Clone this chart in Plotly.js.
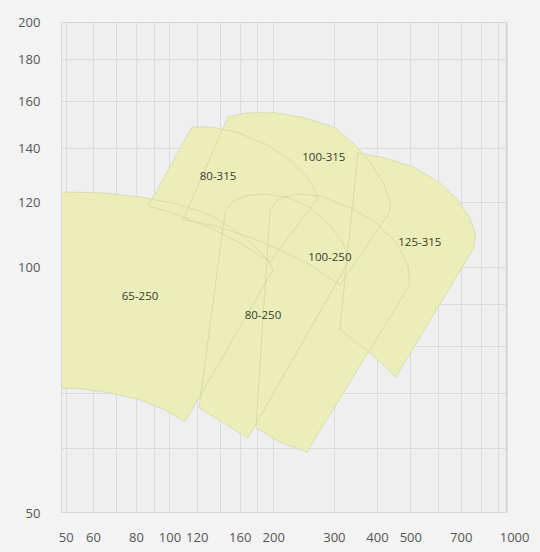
<!DOCTYPE html>
<html>
<head>
<meta charset="utf-8">
<script src="https://cdn.plot.ly/plotly-3.0.1.min.js"></script>
<style>
  html, body { margin: 0; padding: 0; background: #f3f3f3; }
  #chart { width: 540px; height: 552px; }
</style>
</head>
<body>
<div id="chart"></div>
<script>
// Flow Q (x) and head H (y) outlines of each pump operating range
const q65_250 = [45, 62.7, 81.9, 107, 130.7, 154.5, 176.5, 192.5, 199, 110.7, 96.8, 81.9, 67.1, 54.9, 45];
const h65_250 = [123.8, 123.5, 122.1, 119.4, 116, 111.2, 106, 102.2, 99.3, 64.7, 66.9, 68.8, 70.2, 71, 71.2];

const q80_250 = [121.5, 144.5, 151.4, 165.1, 188.7, 223, 254.8, 291.2, 317.6, 328.4, 326.2, 168.4, 144.5, 121.5];
const h80_250 = [67.3, 117, 120.4, 122.4, 123.1, 121.7, 118.4, 112.8, 107.2, 103.6, 100.8, 61.8, 64.3, 67.3];

const q100_250 = [177.7, 195.2, 205.9, 230.5, 272.4, 332.8, 393, 455.4, 490.1, 496.7, 249.7, 208.6, 177.7];
const h100_250 = [63.6, 117.7, 121, 123.1, 122.4, 118.4, 113.8, 107.2, 100.8, 95.2, 59.4, 61.1, 63.6];

const q80_315 = [86.4, 115.9, 132.5, 157.6, 188.7, 223, 251.4, 265.2, 268.8, 195.2, 159.7, 130.7, 103.5, 86.4];
const h80_315 = [119, 148.7, 148.7, 146.3, 141.8, 135.5, 128.8, 123.8, 121.7, 101.6, 107.2, 111.9, 116.4, 119];

const q100_315 = [109.2, 147.4, 168.4, 201.8, 246.4, 301.1, 344, 380.3, 414.8, 434.6, 434.6, 311.3, 254.8, 208.6, 170.7, 135.2, 109.2];
const h100_315 = [114.4, 153.1, 154.8, 154.8, 152.6, 148.4, 141.4, 134.8, 127.4, 121, 117, 95.2, 100.8, 105.1, 109, 112.5, 114.4];

const q125_315 = [351, 420.3, 513.5, 606.8, 684.3, 741.4, 771.7, 761.5, 452.4, 380.3, 311.3, 351];
const h125_315 = [138.2, 136.3, 132.5, 127, 121, 115, 109.7, 105.7, 73.4, 78.6, 83.9, 138.2];

const labelNames = ["65-250", "80-250", "100-250", "80-315", "100-315", "125-315"];
const labelQ = [81.9, 186.2, 291.2, 137.9, 279.7, 531];
const labelH = [92.1, 87.2, 102.8, 129.2, 136.3, 107.2];

const xTickVals = [50, 60, 80, 100, 120, 160, 200, 300, 400, 500, 700, 1000];
const xTickText = ["50", "60", "80", "100", "120", "160", "200", "300", "400", "500", "700", "1000"];
const xGridVals = [50, 60, 70, 80, 90, 100, 120, 140, 160, 180, 200, 300, 400, 500, 600, 700, 800, 900];
const yTickVals = [50, 100, 120, 140, 160, 180, 200];
const yTickText = ["50", "100", "120", "140", "160", "180", "200"];
const yGridVals = [60, 70, 80, 90, 100, 120, 140, 160, 180];

const regions = [
  [q65_250, h65_250], [q80_250, h80_250], [q100_250, h100_250],
  [q80_315, h80_315], [q100_315, h100_315], [q125_315, h125_315]
];

const fillCol = '#ebeeb8';
const edgeCol = 'rgba(200,202,156,0.5)';
const traces = [];
regions.forEach(r => traces.push({
  type: 'scatter', mode: 'lines', x: r[0], y: r[1], fill: 'toself',
  fillcolor: fillCol, line: {width: 0}, hoverinfo: 'skip', showlegend: false
}));
regions.forEach(r => traces.push({
  type: 'scatter', mode: 'lines', x: r[0], y: r[1],
  line: {color: edgeCol, width: 1}, hoverinfo: 'skip', showlegend: false
}));
traces.push({
  type: 'scatter', mode: 'text', x: labelQ, y: labelH, text: labelNames,
  textposition: 'middle center',
  textfont: {family: 'Open Sans, sans-serif', size: 11.5, color: '#3a3a30'},
  hoverinfo: 'skip', showlegend: false
});

const xMin = 48.3, xFrame = 949, xMax = 1030;
const gridCol = '#dcdcdc';

const layout = {
  width: 540, height: 552,
  margin: {l: 61, r: 21, t: 22, b: 39, pad: 0},
  paper_bgcolor: '#f3f3f3',
  plot_bgcolor: '#efefef',
  showlegend: false,
  font: {family: 'Open Sans, sans-serif', color: '#555555', size: 13},
  xaxis: {
    type: 'log', range: [Math.log10(xMin), Math.log10(xMax)],
    tickmode: 'array', tickvals: xTickVals, ticktext: xTickText,
    showgrid: false, zeroline: false, showline: false,
    ticks: 'outside', ticklen: 12, tickcolor: 'rgba(0,0,0,0)',
    tickfont: {size: 13, color: '#555555'},
    minor: {tickmode: 'array', tickvals: xGridVals, showgrid: true, gridcolor: gridCol, gridwidth: 1, ticks: ''},
    fixedrange: true
  },
  yaxis: {
    type: 'log', range: [Math.log10(50), Math.log10(200)],
    tickmode: 'array', tickvals: yTickVals, ticktext: yTickText,
    showgrid: false, zeroline: false, showline: false,
    ticks: 'outside', ticklen: 17, tickcolor: 'rgba(0,0,0,0)',
    tickfont: {size: 13, color: '#555555'},
    minor: {tickmode: 'array', tickvals: yGridVals, showgrid: true, gridcolor: gridCol, gridwidth: 1, ticks: ''},
    fixedrange: true
  },
  shapes: [
    {type: 'rect', xref: 'x', yref: 'paper', x0: 955, x1: xMax, y0: 0, y1: 1,
     fillcolor: '#f3f3f3', line: {width: 0}, layer: 'above'},
    {type: 'rect', xref: 'x', yref: 'y', x0: xMin, x1: xFrame, y0: 50, y1: 200,
     fillcolor: 'rgba(0,0,0,0)', line: {color: '#d8d8d8', width: 2}, layer: 'above'}
  ]
};

Plotly.newPlot('chart', traces, layout, {displayModeBar: false, staticPlot: true});
</script>
</body>
</html>
